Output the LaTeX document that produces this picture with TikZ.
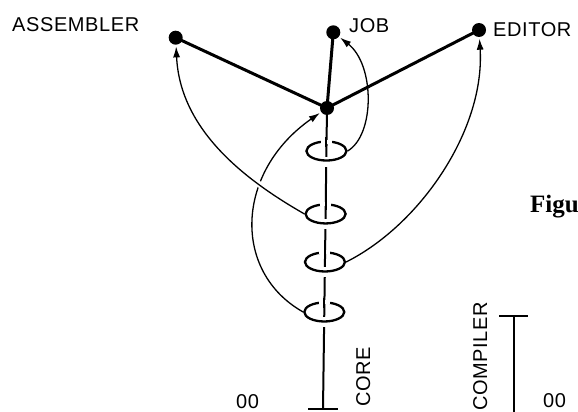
\documentclass[tikz,border=0pt]{standalone}
\usepackage{fontspec}
\newfontfamily\labfont[LetterSpace=3]{Liberation Sans}
\newfontfamily\figfont{Liberation Serif}
\usetikzlibrary{arrows.meta,shapes.geometric,calc}
\begin{document}
\begin{tikzpicture}[x=1pt,y=-1pt,
  dot/.style={circle,fill=black,inner sep=0pt,minimum size=14pt},
  heavy/.style={line width=3pt},
  polestyle/.style={line width=2pt},
  ring/.style={ellipse,draw,line width=2.3pt,minimum width=40pt,minimum height=19pt,inner sep=0pt},
  link/.style={line width=1.3pt,-{Latex[length=11pt,width=7pt]},shorten >=1.5pt},
  lab/.style={font=\labfont\fontsize{20}{20}\selectfont,inner sep=0pt},
  tickline/.style={line width=2.5pt}]
\useasboundingbox (0,0) rectangle (578,412);
\clip (0,0) rectangle (578,412);

% dots
\node[dot] (asm) at (175.7,37.7) {};
\node[dot] (job) at (333.3,32.3) {};
\node[dot] (ed)  at (479,30) {};
\node[dot] (hub) at (327,108) {};
\coordinate (base) at (323,409);

% heavy links
\draw[heavy] (hub.center) -- (asm.center);
\draw[heavy] (hub.center) -- (job.center);
\draw[heavy] (hub.center) -- (ed.center);

% pole
\draw[polestyle] (hub.center) -- (base);
\draw[tickline] ([shift={(-15,0)}]base) -- ([shift={(15,0)}]base);

% rings
\foreach \t [count=\i] in {0.1429,0.352,0.5116,0.6777} {
  \coordinate (c\i) at ($(hub.center)!\t!(base)$);
  \fill[white] ([shift={(-3.5,5.5)}]c\i) rectangle ([shift={(3.5,15.5)}]c\i);
  \node[ring] (e\i) at (c\i) {};
  \draw[white,line width=4pt] ([shift={(-5.5,-9.5)}]c\i) -- ([shift={(5.5,-9.5)}]c\i);
  \draw[polestyle] ([shift={(0,-14)}]c\i) -- ([shift={(0,-4)}]c\i);
}

% thin curved links
\draw[link] (e4.west) .. controls (232,272) and (235,172) .. (hub);
\path (e2.west) .. controls (245,180) and (180,130) .. (asm)
   coordinate[pos=0.2] (g1) coordinate[pos=0.34] (g2);
\draw[white,line width=6pt] (g1) -- (g2);
\draw[link] (e2.west) .. controls (245,180) and (180,130) .. (asm);
\draw[link] (e1.east) .. controls (375,135) and (375,65) .. (job);
\draw[link] (e3.east) .. controls (420,225) and (485,130) .. (ed);

% labels
\node[lab,anchor=base west] (lasm) at (12,32) {ASSEMBLER};
\node[lab,anchor=base west] (ljob) at (349,33) {JOB};
\node[lab,anchor=base west] (led) at (493,37) {EDITOR};
\node[lab,anchor=base west,rotate=90] (lcore) at (370,407) {CORE};
\node[lab,anchor=base west,rotate=90] (lcomp) at (487,411) {COMPILER};
\node[lab,anchor=base west] (z1) at (236,408) {00};
\node[lab,anchor=base west] (z2) at (543,407) {00};
\node[font=\figfont\bfseries\fontsize{25}{25}\selectfont,inner sep=0pt,anchor=base west] (fig) at (530,212) {Figu};

% compiler tick
\coordinate (ctop) at (514,316);
\coordinate (cbot) at (514,412);
\draw[polestyle] (ctop) -- (cbot);
\draw[tickline] ([shift={(-15,0)}]ctop) -- ([shift={(14,0)}]ctop);
\end{tikzpicture}
\end{document}
